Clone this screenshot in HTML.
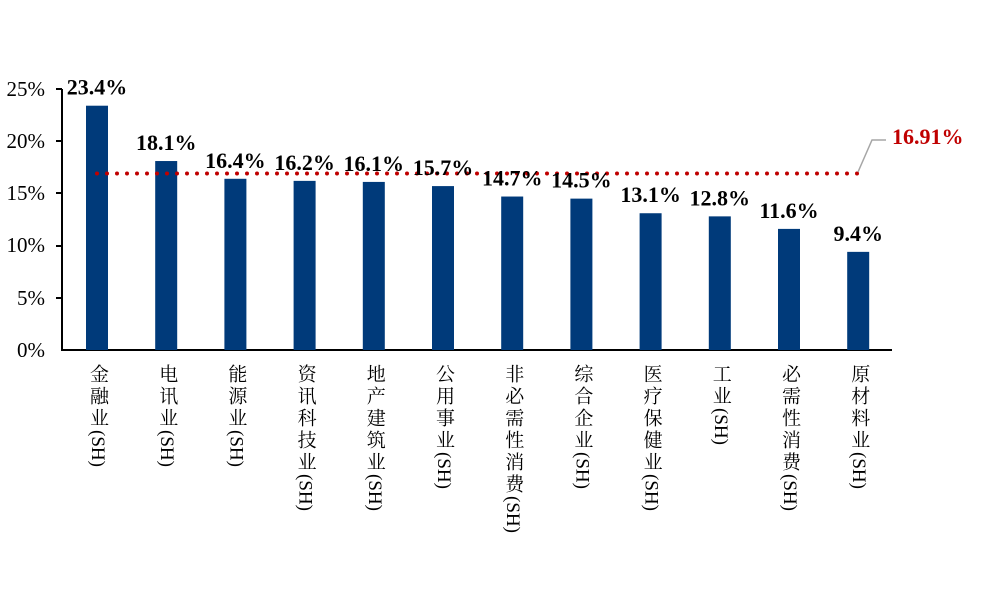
<!DOCTYPE html><html><head><meta charset="utf-8"><style>
body{margin:0;width:987px;height:593px;background:#fff;position:relative;overflow:hidden;font-family:"Liberation Serif","Noto Serif CJK SC",serif}
.l{position:absolute;top:364px;writing-mode:vertical-rl;font-size:19px;letter-spacing:3px;line-height:22px;width:22px;color:#000}
.l span{letter-spacing:0}
</style></head><body>
<svg width="987" height="593" style="position:absolute;left:0;top:0" font-family="Liberation Serif, Noto Serif CJK SC, serif">
<g font-size="21" text-anchor="end" fill="#000">
<text x="45" y="96">25%</text><text x="45" y="148">20%</text><text x="45" y="200">15%</text><text x="45" y="252">10%</text><text x="45" y="305">5%</text><text x="45" y="357">0%</text>
</g>
<g stroke="#000" stroke-width="2">
<line x1="62" y1="89" x2="62" y2="350"/><line x1="61" y1="350" x2="892" y2="350"/>
<line x1="56" y1="89" x2="62" y2="89"/><line x1="56" y1="141" x2="62" y2="141"/><line x1="56" y1="193" x2="62" y2="193"/><line x1="56" y1="246" x2="62" y2="246"/><line x1="56" y1="298" x2="62" y2="298"/>
</g>
<g fill="#003A7A" id="bars"></g>
<line x1="97" y1="173.5" x2="860" y2="173.5" stroke="#C00000" stroke-width="4" stroke-linecap="round" stroke-dasharray="0 10"/>
<polyline points="858,172 872,140 886,140" fill="none" stroke="#A6A6A6" stroke-width="1.5"/>
<text x="892" y="144" font-size="22" font-weight="bold" fill="#C00000">16.91%</text>
<g id="vals" font-size="22" font-weight="bold" text-anchor="middle"></g>
</svg>
<div id="labs"></div>
<script>
var v=[23.4,18.1,16.4,16.2,16.1,15.7,14.7,14.5,13.1,12.8,11.6,9.4];
var n=["金融业","电讯业","能源业","资讯科技业","地产建筑业","公用事业","非必需性消费","综合企业","医疗保健业","工业","必需性消费","原材料业"];
var b="",t="",h="";
for(var i=0;i<12;i++){var c=97+i*69.2,y=350-v[i]*10.44;
b+='<rect x="'+(c-11)+'" y="'+y+'" width="22" height="'+(350-y)+'"/>';
t+='<text x="'+c+'" y="'+(y-11)+'">'+v[i].toFixed(1)+'%</text>';
h+='<div class="l" style="left:'+(c-11)+'px">'+n[i]+'<span>(SH)</span></div>';}
document.getElementById("bars").innerHTML=b;document.getElementById("vals").innerHTML=t;document.getElementById("labs").innerHTML=h;
</script>
</body></html>
